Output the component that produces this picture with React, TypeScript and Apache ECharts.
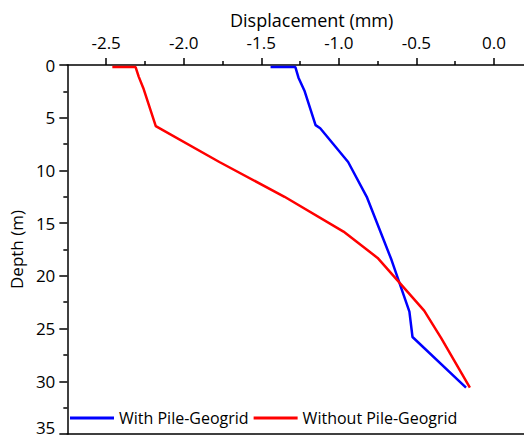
import React, { useEffect, useRef } from "react";
import * as echarts from "echarts";

const seriesNames = ["With Pile-Geogrid", "Without Pile-Geogrid"];
const seriesColors = ["#0000FF", "#FF0000"];

// [displacement (mm), depth (m)]
const withPileGeogrid: number[][] = [
  [-1.44, 0.2], [-1.28, 0.2], [-1.26, 1.2], [-1.22, 2.5], [-1.15, 5.7],
  [-1.12, 6.0], [-0.94, 9.2], [-0.82, 12.5], [-0.66, 18.5], [-0.545, 23.4],
  [-0.525, 25.8], [-0.18, 30.6],
];
const withoutPileGeogrid: number[][] = [
  [-2.46, 0.2], [-2.31, 0.2], [-2.29, 1.1], [-2.26, 2.2], [-2.18, 5.8],
  [-1.77, 9.2], [-1.35, 12.5], [-0.97, 15.8], [-0.75, 18.3], [-0.45, 23.3],
  [-0.34, 25.9], [-0.155, 30.6],
];

const displacementMajorTicks = [-2.5, -2.0, -1.5, -1.0, -0.5, 0.0];
const displacementMinorTicks = [-2.25, -1.75, -1.25, -0.75, -0.25, 0.25];
const xMin = -2.75;
const xMax = 0.4;
const depthMin = 0;
const depthMax = 35;
const depthInterval = 5;

const FONT = "Open Sans";

export default function App() {
  const ref = useRef<HTMLDivElement>(null);
  useEffect(() => {
    if (!ref.current) return;
    const chart = echarts.init(ref.current, undefined, { renderer: "svg" });
    const axisLineStyle = { color: "#000", width: 1.5 };
    chart.setOption({
      animation: false,
      backgroundColor: "#fff",
      textStyle: { fontFamily: FONT },
      grid: { left: 65, top: 65, right: 600 - 556, bottom: 5, containLabel: false },
      legend: {
        data: seriesNames,
        left: 70,
        top: 410,
        padding: 0,
        icon: "rect",
        itemWidth: 44,
        itemHeight: 3,
        itemGap: 5,
        textStyle: { fontFamily: FONT, fontSize: 16, color: "#000" },
      },
      xAxis: [
        {
          type: "value",
          position: "top",
          min: xMin,
          max: xMax,
          name: "Displacement (mm)",
          nameLocation: "middle",
          nameGap: 32,
          nameTextStyle: { fontFamily: FONT, fontSize: 18, color: "#000" },
          axisLine: { show: true, onZero: false, lineStyle: axisLineStyle },
          axisTick: { show: true, length: 7, customValues: displacementMajorTicks, lineStyle: axisLineStyle },
          axisLabel: {
            customValues: displacementMajorTicks,
            margin: 14,
            fontFamily: FONT,
            fontSize: 17,
            color: "#000",
            formatter: (v: number) => v.toFixed(1),
          },
          splitLine: { show: false },
        },
        {
          type: "value",
          position: "top",
          min: xMin,
          max: xMax,
          axisLine: { show: false },
          axisTick: { show: true, length: 4, customValues: displacementMinorTicks, lineStyle: axisLineStyle },
          axisLabel: { show: false },
          splitLine: { show: false },
        },
        {
          type: "value",
          position: "bottom",
          min: xMin,
          max: xMax,
          axisLine: { show: true, onZero: false, lineStyle: axisLineStyle },
          axisTick: { show: false },
          axisLabel: { show: false },
          splitLine: { show: false },
        },
      ],
      yAxis: {
        type: "value",
        inverse: true,
        min: depthMin,
        max: depthMax,
        interval: depthInterval,
        name: "Depth (m)",
        nameLocation: "middle",
        nameGap: 40,
        nameTextStyle: { fontFamily: FONT, fontSize: 17, color: "#000" },
        axisLine: { show: true, onZero: false, lineStyle: axisLineStyle },
        axisTick: { show: true, length: 8, lineStyle: axisLineStyle },
        minorTick: { show: true, splitNumber: 2, length: 4, lineStyle: axisLineStyle },
        axisLabel: {
          margin: 12,
          fontFamily: FONT,
          fontSize: 17,
          color: "#000",
          formatter: (v: number) => (v === depthMax ? `{last|${v}}` : `${v}`),
          rich: {
            last: { fontFamily: FONT, fontSize: 17, color: "#000", padding: [0, 0, 14, 0] },
          },
        },
        splitLine: { show: false },
      },
      series: [
        {
          name: seriesNames[0],
          type: "line",
          xAxisIndex: 0,
          data: withPileGeogrid,
          showSymbol: false,
          symbol: "none",
          lineStyle: { color: seriesColors[0], width: 2.5 },
          itemStyle: { color: seriesColors[0] },
        },
        {
          name: seriesNames[1],
          type: "line",
          xAxisIndex: 0,
          data: withoutPileGeogrid,
          showSymbol: false,
          symbol: "none",
          lineStyle: { color: seriesColors[1], width: 2.5 },
          itemStyle: { color: seriesColors[1] },
        },
      ],
    });
    return () => chart.dispose();
  }, []);
  return (
    <div style={{ position: "fixed", left: 0, top: 0, width: 524, height: 439, overflow: "hidden", background: "#fff" }}>
      <div ref={ref} style={{ width: 600, height: 439 }} />
    </div>
  );
}
